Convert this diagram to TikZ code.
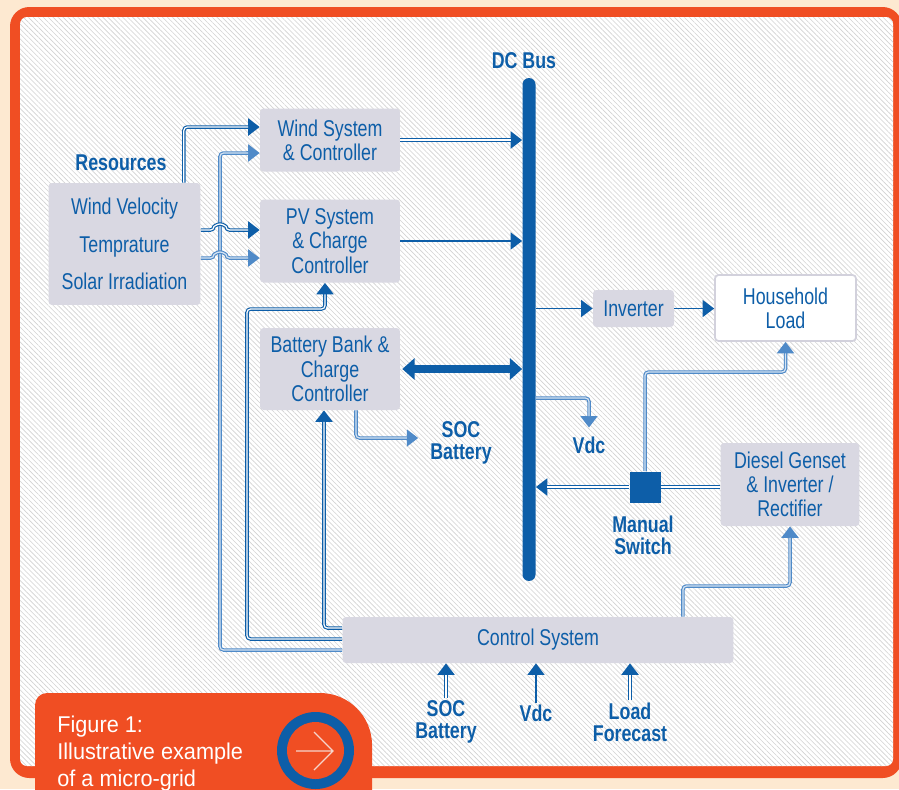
\documentclass[tikz,border=0pt]{standalone}
\usepackage{fontspec}
\setmainfont{Liberation Sans}[FakeStretch=0.78]
\newfontfamily\capfont{Liberation Sans}[FakeStretch=0.95]
\usetikzlibrary{arrows.meta,patterns.meta}
\definecolor{GridBlue}{HTML}{0D5EA8}
\definecolor{GridLineSoft}{HTML}{4F8AC8}
\definecolor{GridLineTint}{HTML}{D6E4F3}
\definecolor{GridBoxFill}{HTML}{D9D8E2}
\definecolor{GridBoxEdge}{HTML}{D2D1DC}
\definecolor{GridOrange}{HTML}{F04E23}
\definecolor{GridPeach}{HTML}{FDE9D1}
\definecolor{GridHatch}{HTML}{D2D2D2}
\definecolor{GridArrowTint}{HTML}{F6D5CB}

\begin{document}
\begin{tikzpicture}[
  x=0.02cm, y=-0.02cm,
  font=\fontsize{13}{13.8}\selectfont,
  sysbox/.style={fill=GridBoxFill, rounded corners=2pt, text=GridBlue, align=center, inner sep=2pt},
  lbl/.style={text=GridBlue, font=\fontsize{13}{12.6}\selectfont\bfseries, align=center, inner sep=1pt},
  headtip/.style={-{Triangle[length=6.5pt,width=9.5pt]}},
  sline/.style={draw=GridBlue, line width=1.1pt, headtip},
  dline/.style={draw=GridBlue, line width=2pt, rounded corners=2pt, headtip, postaction={draw=white, line width=0.7pt, -, shorten >=6.5pt}},
  lline/.style={draw=GridLineSoft, line width=2pt, rounded corners=2pt, headtip, postaction={draw=GridLineTint, line width=0.7pt, -, shorten >=6.5pt}}
]
\useasboundingbox (0,0) rectangle (899,789);
\clip (0,0) rectangle (899,789);
\fill[GridPeach] (0,0) rectangle (899,789);
\fill[GridOrange, rounded corners=11pt] (10,7) rectangle (902,778);
\fill[white, rounded corners=4pt] (20,17) rectangle (893,766);
\fill[pattern={Lines[angle=-45,distance=2pt,line width=0.35pt]}, pattern color=GridHatch, rounded corners=4pt] (20,17) rectangle (893,766);

\node[fill=GridBlue, rounded corners=3.6pt, minimum width=0.26cm, minimum height=10.06cm, inner sep=0] (bus) at (529,329.5) {};
\node[lbl] (bustitle) at (524,61) {DC Bus};

\node[lbl] (restitle) at (121,163) {Resources};
\node[sysbox, minimum width=3.04cm, minimum height=2.44cm] (res) at (124.5,244) {Wind Velocity\\[7.5pt]Temprature\\[7.5pt]Solar Irradiation};
\node[sysbox, minimum width=2.8cm, minimum height=1.26cm] (wind) at (330,140) {Wind System\\\& Controller};
\node[sysbox, minimum width=2.8cm, minimum height=1.66cm] (pv) at (330,241) {PV System\\\& Charge\\Controller};
\node[sysbox, minimum width=2.8cm, minimum height=1.64cm] (batt) at (330,369) {Battery Bank \&\\Charge\\Controller};
\node[sysbox, minimum width=1.62cm, minimum height=0.74cm] (inv) at (633.5,308.5) {Inverter};
\node[sysbox, fill=white, draw=GridBoxEdge, line width=1pt, minimum width=2.82cm, minimum height=1.32cm] (load) at (785.5,308) {Household\\Load};
\node[sysbox, minimum width=2.78cm, minimum height=1.66cm] (dsl) at (790,484.5) {Diesel Genset\\\& Inverter /\\Rectifier};
\node[sysbox, minimum width=7.82cm, minimum height=0.92cm] (ctrl) at (538,640) {Control System};
\node[fill=GridBlue, minimum size=0.62cm, inner sep=0] (sw) at (645,487) {};
\node[lbl] (swlbl) at (643,535) {Manual\\Switch};
\node[lbl] (socb) at (461,443) {SOC\\Battery};
\node[lbl] (vdcb) at (589,445) {Vdc};
\foreach \nm/\xx/\yy/\txt in {socc/446/722/{SOC\\Battery}, vdcc/536/713/{Vdc}, lfc/630/722/{Load\\Forecast}}
  \node[lbl] (\nm) at (\xx,\yy) {\txt};

\draw[dline] ([xshift=-0.34cm]res.north east) |- ([yshift=0.26cm]wind.west);
\draw[lline] ([yshift=-0.2cm]ctrl.west) -| (220,153) -- ([yshift=-0.26cm]wind.west);
\draw[dline] ([yshift=0.28cm]res.east) -- (214,230) arc[start angle=180,end angle=360,radius=6] -- ([yshift=0.22cm]pv.west);
\draw[lline] ([yshift=-0.28cm]res.east) -- (214,258) arc[start angle=180,end angle=360,radius=6] -- ([yshift=-0.34cm]pv.west);
\draw[dline] ([yshift=0.02cm]ctrl.west) -| (247,309) -| ([xshift=-0.1cm]pv.south);
\draw[dline] ([yshift=0.24cm]ctrl.west) -| ([xshift=-0.12cm]batt.south);
\draw[lline] ([xshift=0.52cm]batt.south) |- ([xshift=-0.2cm,yshift=0.1cm]socb.west);

\draw[dline] (wind.east) -- (wind.east -| bus.west);
\draw[sline] (pv.east) -- (pv.east -| bus.west);
\draw[draw=GridBlue, line width=4.4pt, {Triangle[length=7pt,width=12pt]}-{Triangle[length=7pt,width=12pt]}] ([xshift=0.04cm]batt.east) -- (batt.east -| bus.west);
\draw[sline] (inv.west -| bus.east) -- (inv.west);
\draw[sline] (inv.east) -- (load.west |- inv.east);
\draw[lline] (bus.east |- 0,398) -| ([yshift=0.14cm]vdcb.north);

\draw[draw=GridBlue, line width=2pt, postaction={draw=white, line width=0.7pt}] (dsl.west |- sw.east) -- (sw.east);
\draw[dline] (sw.west) -- (sw.west -| bus.east);
\draw[lline] (sw.north) |- (load.south |- 0,372) -- (load.south);
\draw[lline] ([xshift=2.9cm]ctrl.north) |- (dsl.south |- 0,586) -- (dsl.south);

\draw[dline] (socc.north) -- (socc.north |- ctrl.south);
\draw[sline] (vdcc.north) -- (vdcc.north |- ctrl.south);
\draw[dline] (lfc.north) -- (lfc.north |- ctrl.south);

\fill[GridOrange] (35,800) -- (35,705) arc[start angle=180,end angle=270,radius=12] -- (320,693) arc[start angle=270,end angle=360,radius=52] -- (372,800) -- cycle;
\fill[GridBlue] (315.5,750.5) circle[radius=38.5];
\fill[GridOrange] (315.5,750.5) circle[radius=28.5];
\draw[GridArrowTint, line width=0.7pt] (296,751) -- (333,751) (314,732) -- (333,751) -- (314,770);
\node[anchor=north west, inner sep=0, text=white, align=left, font=\capfont\fontsize{13}{15.3}\selectfont] (caption) at (57,716) {Figure 1:\\Illustrative example\\of a micro-grid};
\end{tikzpicture}
\end{document}
